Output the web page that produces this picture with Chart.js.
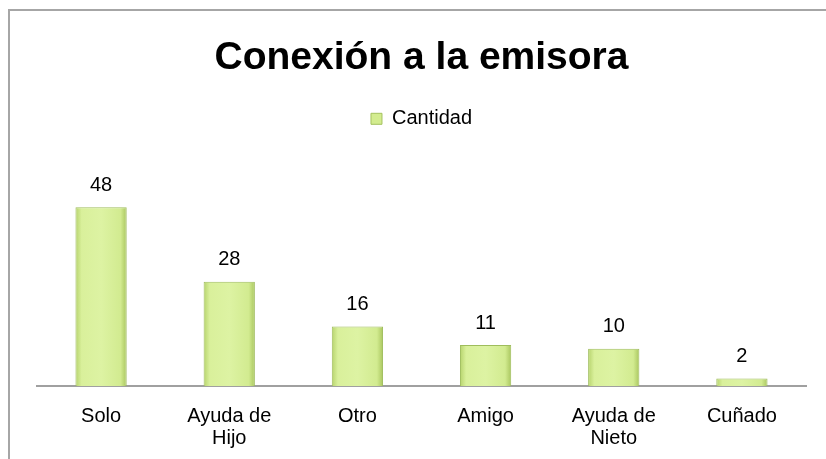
<!DOCTYPE html>
<html>
<head>
<meta charset="utf-8">
<script src="https://cdn.jsdelivr.net/npm/chart.js@4/dist/chart.umd.min.js"></script>
<style>
  html, body { margin: 0; padding: 0; background: #fff; }
  #wrap { position: relative; width: 826px; height: 459px; }
  #frame {
    position: absolute; left: 8px; top: 9px; right: 0; bottom: 0;
    border-top: 2px solid #a6a6a6; border-left: 2px solid #a6a6a6;
    pointer-events: none;
  }
</style>
</head>
<body>
<div id="wrap">
  <canvas id="chart" width="826" height="459"></canvas>
  <div id="frame"></div>
</div>
<script>
const categories = ['Solo', ['Ayuda de', 'Hijo'], 'Otro', 'Amigo', ['Ayuda de', 'Nieto'], 'Cuñado'];
const cantidad = [48, 28, 16, 11, 10, 2];
const seriesName = 'Cantidad';

const FONT = '"Liberation Sans", Arial, sans-serif';
const BAR_PCT = 0.4;

// ======================
// VALUE LABELS ABOVE BARS
// ======================
const valueLabels = {
  id: 'valueLabels',
  afterDatasetsDraw(chart) {
    const ctx = chart.ctx;
    const meta = chart.getDatasetMeta(0);
    ctx.save();
    ctx.font = '20px ' + FONT;
    ctx.fillStyle = '#000';
    ctx.textAlign = 'center';
    ctx.textBaseline = 'middle';
    meta.data.forEach((bar, i) => {
      ctx.fillText(String(cantidad[i]), bar.x, bar.y - 22);
    });
    ctx.restore();
  }
};

// bevel look: darker edges, light centre
function barFill(context) {
  const chart = context.chart;
  const xs = chart.scales.x;
  if (!xs || !chart.chartArea || context.dataIndex === undefined) return '#d6ee92';
  const cx = xs.getPixelForValue(context.dataIndex);
  const w = (xs.width / categories.length) * BAR_PCT;
  const x0 = cx - w / 2;
  const g = chart.ctx.createLinearGradient(x0, 0, x0 + w, 0);
  g.addColorStop(0, '#b6d36c');
  g.addColorStop(0.12, '#d9f09b');
  g.addColorStop(0.5, '#ddf3a3');
  g.addColorStop(0.88, '#d2eb90');
  g.addColorStop(1, '#a9c65e');
  return g;
}

new Chart(document.getElementById('chart'), {
  type: 'bar',
  data: {
    labels: categories,
    datasets: [{
      label: seriesName,
      data: cantidad,
      backgroundColor: barFill,
      borderColor: '#9fbd5c',
      borderWidth: 1,
      barPercentage: BAR_PCT,
      categoryPercentage: 1
    }]
  },
  options: {
    responsive: false,
    animation: false,
    layout: { padding: { left: 37, right: 20, top: 0, bottom: 0 } },
    plugins: {
      title: {
        display: true,
        text: 'Conexión a la emisora',
        color: '#000',
        font: { family: FONT, size: 39, weight: 'bold' },
        padding: { top: 35, bottom: 23 }
      },
      legend: {
        position: 'top',
        labels: {
          color: '#000',
          font: { family: FONT, size: 20 },
          boxWidth: 11,
          boxHeight: 11,
          padding: 4,
          generateLabels: (chart) => [{
            text: seriesName,
            fillStyle: '#d3ec8f',
            strokeStyle: '#a4c25e',
            lineWidth: 1,
            fontColor: '#000',
            datasetIndex: 0
          }]
        }
      },
      tooltip: { enabled: false }
    },
    scales: {
      x: {
        grid: { display: false, drawTicks: false },
        border: { display: true, color: '#a0a0a0', width: 2 },
        afterFit: (scale) => { scale.height = 73; },
        ticks: {
          color: '#000',
          padding: 19,
          maxRotation: 0,
          font: { family: FONT, size: 20, lineHeight: 1.1 }
        }
      },
      y: {
        display: false,
        min: 0,
        max: 66.4
      }
    }
  },
  plugins: [valueLabels]
});
</script>
</body>
</html>
